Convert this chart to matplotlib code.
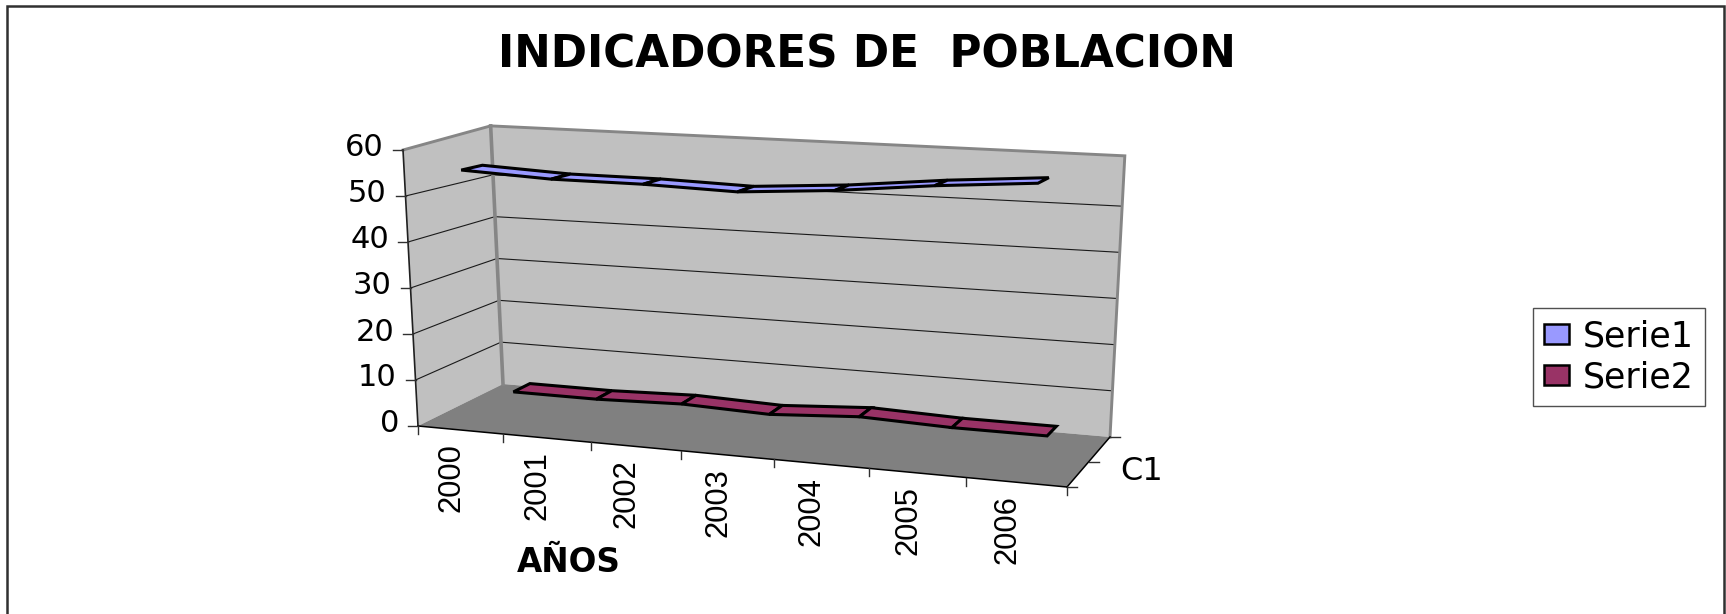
import numpy as np
import matplotlib
matplotlib.use("Agg")
import matplotlib.pyplot as plt
from matplotlib.patches import Patch, Polygon
from matplotlib.transforms import Transform

# Chart data
years = ["2000", "2001", "2002", "2003", "2004", "2005", "2006"]
serie1 = [55.5, 54.5, 54.4, 53.8, 55.1, 57.1, 58.6]
serie2 = [2.4, 2.4, 3.0, 2.4, 3.6, 3.0, 3.0]
y_ticks = [0, 10, 20, 30, 40, 50, 60]
series_names = ["Serie1", "Serie2"]
title_text = "INDICADORES DE  POBLACION"
x_title = "AÑOS"
depth_label = "C1"

COL_S1 = "#9999FF"
COL_S2 = "#993366"
COL_WALL = "#C0C0C0"
COL_FLOOR = "#808080"
COL_FRAME = "#868686"

W, H = 1726, 614
YMAX = 60.0
XMAX = float(len(years))
PERSPECTIVE = 1.10

# Box corners on the canvas: (front/back, left/right, bottom/top)
CORNERS = {
    (0, 0, 0): (418.0, 426.0), (0, 0, 1): (403.0, 150.0),
    (0, 1, 0): (1067.0, 487.0), (0, 1, 1): (1085.0, 182.0),
    (1, 0, 0): (503.0, 384.0), (1, 0, 1): (491.0, 133.0),
    (1, 1, 0): (1110.0, 437.0), (1, 1, 1): (1124.6, 160.0),
}


class BoxProjection(Transform):
    """Maps (category position, value) at a fixed depth onto the 3-D box."""
    input_dims = 2
    output_dims = 2

    def __init__(self, z_depth):
        super().__init__()
        self.z_depth = z_depth

    def transform_non_affine(self, values):
        values = np.asarray(values, dtype=float)
        t = values[:, 0] / XMAX
        u = t / (t + PERSPECTIVE * (1 - t))
        v = values[:, 1] / YMAX
        z = self.z_depth
        out = np.zeros_like(values)
        for d, wd in ((0, 1 - z), (1, z)):
            for r, wr in ((0, 1 - u), (1, u)):
                for s, ws in ((0, 1 - v), (1, v)):
                    out += (wd * wr * ws).reshape(-1, 1) * np.array(CORNERS[(d, r, s)])
        return out


def at(x, y, z_depth=0.0):
    return BoxProjection(z_depth).transform_non_affine(np.array([[x, y]], dtype=float))[0]


fig = plt.figure(figsize=(W / 100, H / 100), dpi=100, facecolor="white")
ax = fig.add_axes([0, 0, 1, 1])
ax.set_xlim(0, W)
ax.set_ylim(H, 0)
ax.axis("off")

WIDE = ["DejaVu Sans"]
ARIAL = ["Liberation Sans"]

# Outer border, open along the bottom
ax.plot([7, 7, 1724, 1724], [H, 6, 6, H], color="#303030", lw=1.8, solid_joinstyle="miter")

# Walls and floor
top_left = at(0, 61.7, 1)
top_right = at(XMAX, 60.9, 1)
ax.add_patch(Polygon([at(0, 0, 0), at(0, YMAX, 0), top_left, at(0, 0, 1)],
                     fc=COL_WALL, ec="none", zorder=1))
ax.add_patch(Polygon([top_left, top_right, at(XMAX, 0, 1), at(0, 0, 1)],
                     fc=COL_WALL, ec="none", zorder=1))
ax.add_patch(Polygon([at(0, 0, 0), at(XMAX, 0, 0), at(XMAX, 0, 1), at(0, 0, 1)],
                     fc=COL_FLOOR, ec="none", zorder=2))

# Gridlines across both walls
for v in y_ticks[1:-1]:
    pts = np.array([at(0, v, 0), at(0, v, 1), at(XMAX, v, 1)])
    ax.plot(pts[:, 0], pts[:, 1], color="#1a1a1a", lw=0.8, zorder=3)

# Wall outline
outline = np.array([at(0, YMAX, 0), top_left, top_right, at(XMAX, 0, 1)])
ax.plot(outline[:, 0], outline[:, 1], color=COL_FRAME, lw=2.1, zorder=3,
        solid_joinstyle="miter")
seam = np.array([top_left, at(0, 0, 1)])
ax.plot(seam[:, 0], seam[:, 1], color=COL_FRAME, lw=2.6, zorder=3)


def ribbon(values, near, far, colour):
    xs = np.arange(len(values)) + 0.5
    pts = np.column_stack([xs, values])
    front = BoxProjection(near).transform_non_affine(pts)
    back = BoxProjection(far).transform_non_affine(pts)
    for i in range(len(values) - 1):
        ax.add_patch(Polygon([front[i], front[i + 1], back[i + 1], back[i]], closed=True,
                             fc=colour, ec="black", lw=2.2, joinstyle="miter", zorder=5))


ribbon(serie2, 0.65, 0.85, COL_S2)
ribbon(serie1, 0.15, 0.40, COL_S1)

# Axis lines and tick marks
left_axis = np.array([at(0, YMAX, 0), at(0, 0, 0)])
ax.plot(left_axis[:, 0], left_axis[:, 1], color="#202020", lw=1.2, zorder=6)
front_axis = np.array([at(0, 0, 0), at(XMAX, 0, 0)])
ax.plot(front_axis[:, 0], front_axis[:, 1], color="black", lw=1.1, zorder=6)
side_axis = np.array([at(XMAX, 0, 0), at(XMAX, 0, 1)])
ax.plot(side_axis[:, 0], side_axis[:, 1], color="black", lw=1.1, zorder=6)

for v in y_ticks:
    px, py = at(0, v, 0)
    ax.plot([px - 10, px], [py, py], color="#303030", lw=1.0, zorder=6)
    ax.text(px - 19, py - 2, str(v), family=WIDE, fontsize=22, ha="right", va="center",
            color="black", zorder=7)

for i in range(len(years) + 1):
    px, py = at(i, 0, 0)
    ax.plot([px, px], [py, py + 8], color="#303030", lw=1.0, zorder=6)

for d in (0.0, 0.5, 1.0):
    px, py = at(XMAX, 0, d)
    ax.plot([px, px + 10], [py, py], color="#303030", lw=1.0, zorder=6)

# Category labels hang below the front edge, read bottom-to-top
for i, label in enumerate(years):
    px, py = at(i + 0.5, 0, 0)
    ax.text(px - 9, py + 13, label, family=ARIAL, fontsize=22.3, rotation=90,
            ha="center", va="top", color="black", zorder=7)

ax.text(1120, 472, depth_label, family=WIDE, fontsize=23, ha="left", va="center", color="black")
ax.text(569, 562, x_title, family=WIDE, fontsize=23.5, fontweight="bold",
        ha="center", va="center", color="black")
ax.text(867, 55, title_text, family=WIDE, fontsize=31.5, fontweight="bold",
        ha="center", va="center", color="black")

# Legend
handles = [Patch(fc=COL_S1, ec="black", lw=1.8, label=series_names[0]),
           Patch(fc=COL_S2, ec="black", lw=1.8, label=series_names[1])]
leg = ax.legend(handles=handles, loc="upper left", bbox_to_anchor=(1533, 308),
                bbox_transform=ax.transData, borderaxespad=0, frameon=True, fancybox=False,
                framealpha=1, edgecolor="#505050",
                prop={"family": WIDE, "size": 25}, handlelength=0.72, handleheight=0.52,
                handletextpad=0.37, labelspacing=0.2, borderpad=0.33)
leg.get_frame().set_linewidth(1.0)

fig.savefig("out.png", dpi=100, facecolor="white")
